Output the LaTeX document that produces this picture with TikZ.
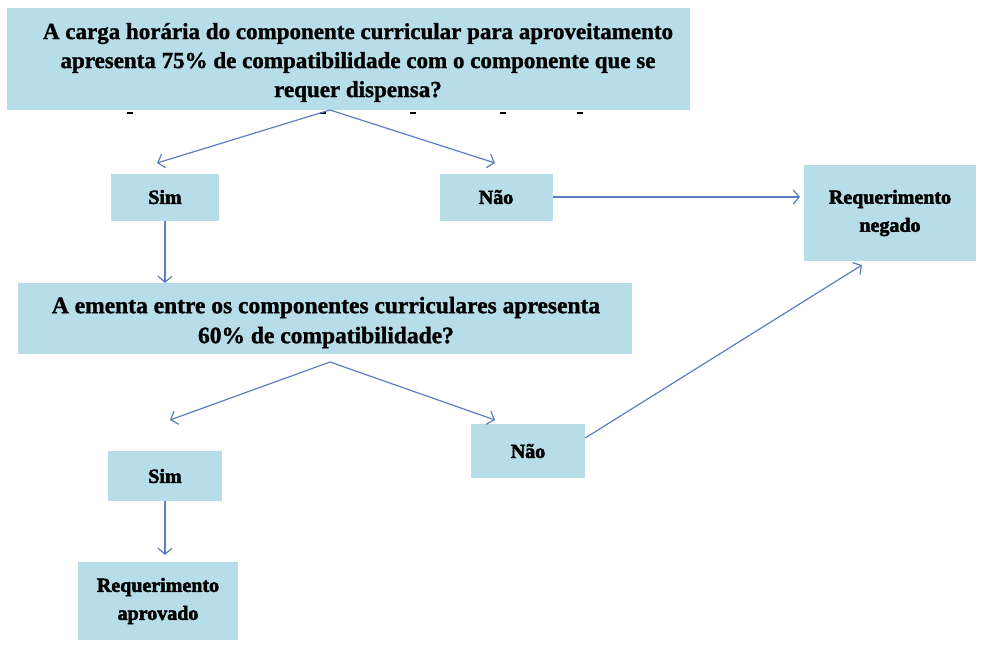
\documentclass[tikz,border=0pt]{standalone}
\usepackage{fontspec}
\setmainfont{Liberation Serif}
\newfontfamily\qfont{Liberation Serif Bold}[FakeBold=1.2]
\newfontfamily\heavyfont{Liberation Serif Bold}[FakeBold=2.5]
\usetikzlibrary{arrows.meta}
\definecolor{boxblue}{HTML}{B7DDE8}
\definecolor{arrowblue}{HTML}{5B7FBC}
\begin{document}
\begin{tikzpicture}[x=1pt,y=-1pt,
  box/.style={fill=boxblue, draw=none, inner sep=0pt, align=center},
  bigq/.style={inner sep=0pt, align=center, font=\fontsize{23}{29}\selectfont\qfont},
  bigr/.style={box, font=\fontsize{23.5}{30}\selectfont\qfont},
  small/.style={box, font=\fontsize{20}{28}\selectfont\heavyfont},
  conn/.style={draw=arrowblue, line width=1.2pt, -{Straight Barb[length=6pt,width=14pt]}},
  tick/.style={draw=black, line width=1.2pt}]
\useasboundingbox (0,0) rectangle (983,648);
\node[box, minimum width=683pt, minimum height=102pt] (q1) at (348.5,59) {};
\node[bigq] (q1t) at (358,62.5)
  {A carga horária do componente curricular para aproveitamento\\
   apresenta 75\% de compatibilidade com o componente que se\\
   requer dispensa?};
\foreach \xx in {130,323,413,503,580} \draw[tick] (\xx-3,113) -- (\xx+3,113);
\node[small, minimum width=108pt, minimum height=47pt] (sim1) at (165,197) {Sim};
\node[small, minimum width=113pt, minimum height=47pt] (nao1) at (496,197) {Não};
\node[small, minimum width=172pt, minimum height=96pt] (neg) at (890,213) {Requerimento\\negado};
\node[box, minimum width=614pt, minimum height=71pt] (q2) at (325,318.5) {};
\node[bigr, fill=none] (q2t) at (326,322.5)
  {A ementa entre os componentes curriculares apresenta\\60\% de compatibilidade?};
\node[small, minimum width=114pt, minimum height=50pt] (sim2) at (165,476) {Sim};
\node[small, minimum width=114pt, minimum height=54pt] (nao2) at (528,451) {Não};
\node[small, minimum width=160pt, minimum height=78pt] (apr) at (158,601) {Requerimento\\aprovado};
\coordinate (c1) at (330,110);
\coordinate (c2) at (330,362);
\coordinate (t1) at (157,163);
\coordinate (t2) at (495,163);
\coordinate (t3) at (165,283);
\coordinate (t4) at (800,197);
\coordinate (t5) at (170,420);
\coordinate (t6) at (495,420);
\coordinate (t7) at (165,555);
\coordinate (t8) at (862,265);
\draw[conn] (c1) -- (t1);
\draw[conn] (c1) -- (t2);
\draw[conn] (sim1.south) -- (t3);
\draw[conn] (nao1.east) -- (t4);
\draw[conn] (c2) -- (t5);
\draw[conn] (c2) -- (t6);
\draw[conn] (sim2.south) -- (t7);
\draw[conn] (nao2.east |- 0,438) -- (t8);
\end{tikzpicture}
\end{document}
